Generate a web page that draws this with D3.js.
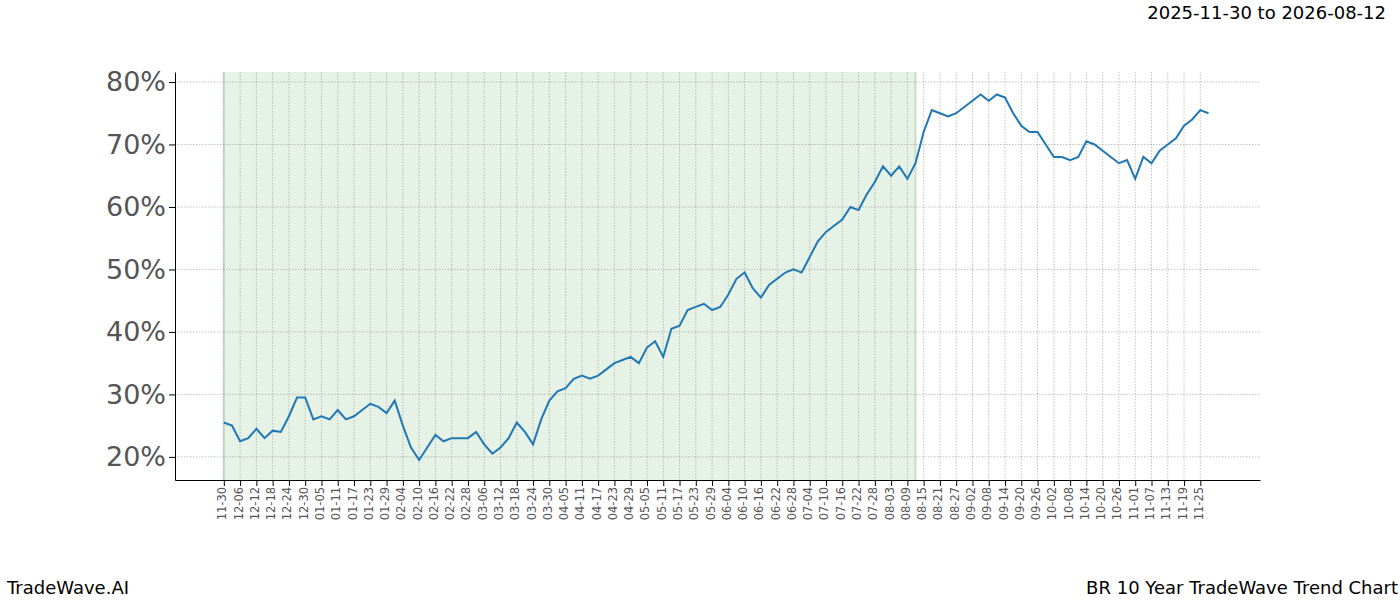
<!DOCTYPE html>
<html>
<head>
<meta charset="utf-8">
<script src="https://cdn.jsdelivr.net/npm/d3@7"></script>
<style>
  body { margin: 0; background: #fff; font-family: "DejaVu Sans", sans-serif; }
</style>
</head>
<body>
<svg></svg>
<script>
let width = 1400;
let height = 600;

// values every 3 days starting 2025-11-30
let startDate = '2025-11-30';
let shadeEnd = '2026-08-12';
let values = [
    25.5, 25, 22.5, 23, 24.5, 23, 24.2, 24, 26.5, 29.5, 29.5, 26, 26.5, 26, 27.5, 26, 26.5, 27.5, 28.5, 28,
    27, 29, 25, 21.5, 19.5, 21.5, 23.5, 22.5, 23, 23, 23, 24, 22, 20.5, 21.5, 23, 25.5, 24, 22, 26,
    29, 30.5, 31, 32.5, 33, 32.5, 33, 34, 35, 35.5, 36, 35, 37.5, 38.5, 36, 40.5, 41, 43.5, 44, 44.5,
    43.5, 44, 46, 48.5, 49.5, 47, 45.5, 47.5, 48.5, 49.5, 50, 49.5, 52, 54.5, 56, 57, 58, 60, 59.5, 62,
    64, 66.5, 65, 66.5, 64.5, 67, 72, 75.5, 75, 74.5, 75, 76, 77, 78, 77, 78, 77.5, 75, 73,
    72, 72, 70, 68, 68, 67.5, 68, 70.5, 70, 69, 68, 67, 67.5, 64.5, 68, 67, 69, 70, 71, 73,
    74, 75.5, 75
];
let yTicks = [20, 30, 40, 50, 60, 70, 80];

let parse = d3.timeParse('%Y-%m-%d');
let t0 = parse(startDate);
let data = values.map((v, i) => ({ date: d3.timeDay.offset(t0, i * 3), value: v }));
let xTicks = d3.range(61).map(i => d3.timeDay.offset(t0, i * 6));

let margin = { left: 175, right: 140, top: 72, bottom: 120 };

let svg = d3.select('svg')
    .attr('width', width)
    .attr('height', height);

let x = d3.scaleTime()
    .domain([d3.timeDay.offset(t0, -18), d3.timeDay.offset(t0, 382)])
    .range([margin.left, width - margin.right]);

let y = d3.scaleLinear()
    .domain([16.3, 81.6])
    .range([height - margin.bottom, margin.top]);

// shaded training window
svg.append('rect')
    .attr('x', x(t0))
    .attr('y', margin.top)
    .attr('width', x(parse(shadeEnd)) - x(t0))
    .attr('height', y.range()[0] - margin.top)
    .attr('fill', '#e6f2e6');
[t0, parse(shadeEnd)].forEach(d => {
    svg.append('line')
        .attr('x1', x(d)).attr('x2', x(d))
        .attr('y1', margin.top).attr('y2', y.range()[0])
        .attr('stroke', '#c8dcc8').attr('stroke-width', 2);
});

// grid
svg.append('g').selectAll('line')
    .data(xTicks)
    .enter().append('line')
    .attr('x1', d => x(d)).attr('x2', d => x(d))
    .attr('y1', margin.top).attr('y2', y.range()[0])
    .attr('stroke', '#999').attr('stroke-width', 0.6).attr('stroke-dasharray', '1.5,1.5');
svg.append('g').selectAll('line')
    .data(yTicks)
    .enter().append('line')
    .attr('x1', margin.left).attr('x2', width - margin.right)
    .attr('y1', d => y(d)).attr('y2', d => y(d))
    .attr('stroke', '#999').attr('stroke-width', 0.6).attr('stroke-dasharray', '1.5,1.5');

// line
svg.append('path')
    .datum(data)
    .attr('fill', 'none')
    .attr('stroke', '#1f77b4')
    .attr('stroke-width', 2)
    .attr('d', d3.line().x(d => x(d.date)).y(d => y(d.value)));

// axes
let xAxis = svg.append('g')
    .attr('transform', `translate(0,${y.range()[0]})`)
    .call(d3.axisBottom(x).tickValues(xTicks).tickFormat(d3.timeFormat('%m-%d')).tickSizeOuter(0));
xAxis.selectAll('text')
    .attr('transform', 'rotate(-90)')
    .attr('text-anchor', 'end')
    .attr('dx', '-0.6em')
    .attr('dy', '-0.35em')
    .attr('x', 0).attr('y', 6)
    .style('font-size', '11.5px')
    .style('fill', '#555');

let yAxis = svg.append('g')
    .attr('transform', `translate(${margin.left},0)`)
    .call(d3.axisLeft(y).tickValues(yTicks).tickFormat(d => d + '%').tickSizeOuter(0));
yAxis.selectAll('text')
    .style('font-size', '27px')
    .style('fill', '#555');
svg.selectAll('.domain').attr('stroke', '#000');
svg.selectAll('.tick line').attr('stroke', '#000');
svg.selectAll('g text').style('font-family', '"DejaVu Sans", sans-serif');

// labels
svg.append('text').attr('x', 1386).attr('y', 19).attr('text-anchor', 'end')
    .style('font-size', '18px').text('2025-11-30 to 2026-08-12');
svg.append('text').attr('x', 7).attr('y', 594)
    .style('font-size', '18px').text('TradeWave.AI');
svg.append('text').attr('x', 1398).attr('y', 594).attr('text-anchor', 'end')
    .style('font-size', '18px').text('BR 10 Year TradeWave Trend Chart');
</script>
</body>
</html>
